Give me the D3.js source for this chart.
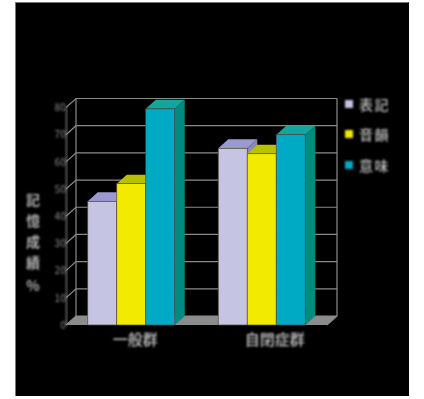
<!DOCTYPE html>
<html><head><meta charset="utf-8">
<script src="https://cdn.jsdelivr.net/npm/d3@7/dist/d3.min.js"></script>
<style>html,body{margin:0;padding:0;background:#fff}svg{display:block}text{font-family:"Noto Sans CJK JP","Noto Sans CJK TC",sans-serif}</style>
</head><body><svg id="c" width="424" height="399"></svg>
<script>
const groups = ["一般群", "自閉症群"];
const seriesNames = ["表記", "音韻", "意味"];
const hyoki = [45.5, 65];
const oin = [52, 63];
const imi = [79.5, 70];
const yTicks = [0, 10, 20, 30, 40, 50, 60, 70, 80];
const frontColors = ["#c5c5e3", "#f2ea00", "#00a9c4"];
const topColors = ["#9a9ad0", "#b8c000", "#12a59c"];
const sideColors = ["#8a8ab0", "#a8a800", "#008a80"];
const yTitle = ["記", "憶", "成", "績", "%"];
const seriesVals = [hyoki, oin, imi];

const svg = d3.select("#c");
const defs = svg.append("defs");
defs.append("filter").attr("id","b").append("feGaussianBlur").attr("stdDeviation",0.65);
defs.append("filter").attr("id","bt").append("feGaussianBlur").attr("stdDeviation",0.8);

svg.append("rect").attr("x",15.5).attr("y",2).attr("width",393.5).attr("height",394).attr("fill","#000");
svg.append("path").attr("d","M15.5,396V2.5H408.5").attr("fill","none").attr("stroke","#777").attr("stroke-width",1);

const dx = 10, dy = -9;
const y = d3.scaleLinear().domain([0,80]).range([325,107.5]);
const x0 = d3.scaleBand().domain(groups).range([66,327]);
const x1 = d3.scaleBand().domain(d3.range(seriesNames.length)).range([0,87]);
const groupPad = (x0.bandwidth()-87)/2;

const g = svg.append("g").attr("filter","url(#b)");
const gridC = "#8a8a8a";
g.append("path").attr("fill","#8c8c8c")
 .attr("d",`M${x0.range()[0]},${y(0)}L${x0.range()[0]+dx},${y(0)+dy}L${x0.range()[1]+dx},${y(0)+dy}L${x0.range()[1]},${y(0)}Z`);
yTicks.forEach(t=>{
  g.append("path").attr("fill","none").attr("stroke",gridC).attr("stroke-width",1.2)
   .attr("d",`M${x0.range()[0]},${y(t)}L${x0.range()[0]+dx},${y(t)+dy}L${x0.range()[1]+dx},${y(t)+dy}`);
});
g.append("path").attr("fill","none").attr("stroke",gridC).attr("stroke-width",1.2)
 .attr("d",`M${x0.range()[0]+dx},${y(80)+dy}V${y(0)+dy}M${x0.range()[1]+dx},${y(80)+dy}V${y(0)+dy}L${x0.range()[1]},${y(0)}`);

groups.forEach((gn,i)=>{
  seriesNames.forEach((s,j)=>{
    const v = seriesVals[j][i];
    const l = x0(gn)+groupPad+x1(j), r = l+x1.bandwidth(), t = y(v), b = y(0);
    g.append("path").attr("fill",sideColors[j])
     .attr("d",`M${r},${t}L${r+dx},${t+dy}L${r+dx},${b+dy}L${r},${b}Z`);
    g.append("path").attr("fill",topColors[j])
     .attr("d",`M${l},${t}L${l+dx},${t+dy}L${r+dx},${t+dy}L${r},${t}Z`);
    g.append("rect").attr("x",l).attr("y",t).attr("width",r-l).attr("height",b-t)
     .attr("fill",frontColors[j]).attr("stroke","#554a3a").attr("stroke-width",0.7);
  });
});

const ya = svg.append("g").attr("transform","translate(66,0)").attr("filter","url(#bt)")
  .call(d3.axisLeft(y).tickValues(yTicks).tickSize(0).tickPadding(0));
ya.select(".domain").attr("stroke",gridC).attr("stroke-width",1.2);
ya.selectAll("text").attr("fill","#777").attr("font-size",10).attr("font-weight",500);

const xa = svg.append("g").attr("transform","translate(0,325)").attr("filter","url(#bt)")
  .call(d3.axisBottom(x0).tickSize(0).tickPadding(9));
xa.select(".domain").remove();
xa.selectAll("text").attr("fill","#c4c4c4").attr("font-size",15).attr("font-weight",500).attr("dx",(d,i)=>[4,13][i]);

svg.append("g").attr("filter","url(#bt)").selectAll("text").data(yTitle).join("text")
  .attr("x",33).attr("y",(d,i)=>[205,226,247,268,291][i]).attr("text-anchor","middle")
  .attr("fill","#b0b0b0").attr("font-size",14).attr("font-weight",700).text(d=>d);

const lg = svg.append("g").attr("filter","url(#bt)");
seriesNames.forEach((s,i)=>{
  const ly = [104,134,165][i];
  lg.append("rect").attr("x",345).attr("y",ly-4).attr("width",8).attr("height",8).attr("fill",frontColors[i]);
  lg.append("text").attr("x",359).attr("y",ly+5.5).attr("fill","#c0c0c0").attr("font-size",14).attr("font-weight",500)
    .attr("letter-spacing",1.5).text(s);
});
</script></body></html>
